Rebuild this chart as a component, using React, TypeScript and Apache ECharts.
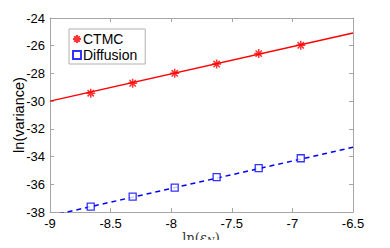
import React, { useEffect, useRef } from "react";
import * as echarts from "echarts";

const xValues = [-8.664, -8.318, -7.971, -7.625, -7.278, -6.931];
const ctmcValues = [-29.43, -28.71, -27.99, -27.32, -26.57, -25.97];
const diffusionValues = [-37.61, -36.89, -36.24, -35.49, -34.84, -34.12];
const ctmcFit = [
  [-9, -30.0],
  [-6.5, -25.08],
];
const diffusionFit = [
  [-9, -38.28],
  [-6.5, -33.33],
];
const xTicks = [-9, -8.5, -8, -7.5, -7, -6.5];
const yTicks = [-38, -36, -34, -32, -30, -28, -26, -24];

const asteriskPath =
  "path://M5 0 L5 10 M0 5 L10 5 M1.5 1.5 L8.5 8.5 M8.5 1.5 L1.5 8.5";

export default function App() {
  const ref = useRef<HTMLDivElement>(null);
  useEffect(() => {
    if (!ref.current) return;
    const chart = echarts.init(ref.current, null, { renderer: "svg" });
    const axisColor = "#a6a6a6";
    const font = "Liberation Sans, Arial, Helvetica, sans-serif";
    const serif = "DejaVu Serif, Liberation Serif, serif";
    const xAxisBase = {
      type: "value" as const,
      min: xTicks[0],
      max: xTicks[xTicks.length - 1],
      interval: 0.5,
      splitLine: { show: false },
      axisLine: { show: true, onZero: false, lineStyle: { color: axisColor, width: 1 } },
      axisTick: { show: true, inside: true, length: 4, lineStyle: { color: axisColor } },
    };
    const yAxisBase = {
      type: "value" as const,
      min: yTicks[0],
      max: yTicks[yTicks.length - 1],
      interval: 2,
      splitLine: { show: false },
      axisLine: { show: true, onZero: false, lineStyle: { color: axisColor, width: 1 } },
      axisTick: { show: true, inside: true, length: 4, lineStyle: { color: axisColor } },
    };
    chart.setOption({
      animation: false,
      backgroundColor: "#ffffff",
      grid: {
        left: 50,
        right: 37,
        top: 18,
        bottom: 36,
        containLabel: false,
        outerBoundsMode: "none",
      },
      legend: {
        left: 69,
        top: 29,
        orient: "vertical",
        backgroundColor: "#ffffff",
        borderColor: "#b0b0b0",
        borderWidth: 1,
        padding: [3, 8, 2, 3],
        itemGap: 2,
        itemWidth: 8,
        itemHeight: 8,
        textStyle: { fontFamily: font, fontSize: 14, color: "#000", padding: [0, 0, 0, -3] },
        data: [
          { name: "CTMC", icon: asteriskPath },
          { name: "Diffusion", icon: "rect" },
        ],
      },
      graphic: [
        {
          type: "text",
          x: 201,
          y: 230,
          style: {
            text: "{a|ln(}{e|ε}{s|N}{a|)}",
            align: "center",
            verticalAlign: "top",
            rich: {
              a: { fontFamily: serif, fontSize: 13, lineHeight: 15, fill: "#333" },
              e: { fontFamily: serif, fontSize: 13, lineHeight: 15, fontStyle: "italic", fill: "#333" },
              s: {
                fontFamily: serif,
                fontSize: 9,
                lineHeight: 9,
                verticalAlign: "bottom",
                fontStyle: "italic",
                fill: "#333",
              },
            },
          },
        },
      ],
      xAxis: [
        {
          ...xAxisBase,
          position: "bottom",
          axisLabel: {
            color: "#000",
            fontFamily: font,
            fontSize: 13,
            margin: 5,
            formatter: (v: number) => String(v),
          },
        },
        {
          ...xAxisBase,
          position: "top",
          axisLabel: { show: false },
        },
      ],
      yAxis: [
        {
          ...yAxisBase,
          position: "left",
          axisLabel: { color: "#000", fontFamily: font, fontSize: 13, margin: 5 },
          name: "ln(variance)",
          nameLocation: "middle",
          nameGap: 24,
          nameMoveOverlap: false,
          nameTextStyle: { fontFamily: font, fontSize: 14.5, color: "#000" },
        },
        {
          ...yAxisBase,
          position: "right",
          axisLabel: { show: false },
        },
      ],
      series: [
        {
          name: "CTMC fit",
          type: "line",
          data: ctmcFit,
          symbol: "none",
          lineStyle: { color: "#ff0000", width: 1.5, type: "solid" },
          clip: true,
          z: 2,
        },
        {
          name: "Diffusion fit",
          type: "line",
          data: diffusionFit,
          symbol: "none",
          lineStyle: { color: "#0000ff", width: 1.5, type: [5, 4] },
          clip: true,
          z: 2,
        },
        {
          name: "CTMC",
          type: "scatter",
          data: xValues.map((x, i) => [x, ctmcValues[i]]),
          symbol: asteriskPath,
          symbolSize: 9,
          itemStyle: { color: "#ff0000", borderColor: "#ff0000", borderWidth: 1.5 },
          z: 3,
        },
        {
          name: "Diffusion",
          type: "scatter",
          data: xValues.map((x, i) => [x, diffusionValues[i]]),
          symbol: "rect",
          symbolSize: 7,
          itemStyle: { color: "#ffffff", borderColor: "#0000ff", borderWidth: 1.3 },
          z: 3,
        },
      ],
    });
    return () => chart.dispose();
  }, []);
  return <div ref={ref} style={{ width: 390, height: 248, margin: -8 }} />;
}
